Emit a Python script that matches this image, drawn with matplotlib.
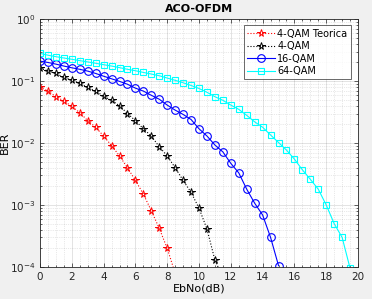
import numpy as np
import matplotlib
matplotlib.use("Agg")
import matplotlib.pyplot as plt
from matplotlib.ticker import LogLocator, MultipleLocator, NullFormatter

# EbNo axis (dB), 0.5 dB steps
ebno_teo = np.arange(0, 8.51, 0.5)
ber_teo = [0.080, 0.069, 0.056, 0.048, 0.039, 0.031, 0.023, 0.018, 0.013, 0.0091,
           0.0062, 0.0040, 0.0025, 0.0015, 0.00081, 0.00042, 0.00020, 0.000079]

ebno_4 = np.arange(0, 11.51, 0.5)
ber_4 = [0.160, 0.147, 0.133, 0.115, 0.104, 0.092, 0.079, 0.069, 0.057, 0.049,
         0.040, 0.030, 0.023, 0.017, 0.013, 0.0087, 0.0062, 0.0040, 0.0025, 0.0016,
         0.00089, 0.00041, 0.000129, 0.000068]

ebno_16 = np.arange(0, 15.01, 0.5)
ber_16 = [0.210, 0.200, 0.188, 0.175, 0.164, 0.155, 0.145, 0.133, 0.120, 0.109,
          0.099, 0.089, 0.077, 0.069, 0.059, 0.051, 0.041, 0.034, 0.029, 0.024,
          0.017, 0.013, 0.0093, 0.0072, 0.0047, 0.0033, 0.0018, 0.00107, 0.00069,
          0.00030, 0.000105]

ebno_64 = np.arange(0, 19.51, 0.5)
ber_64 = [0.280, 0.262, 0.248, 0.236, 0.225, 0.214, 0.204, 0.194, 0.184, 0.175,
          0.165, 0.155, 0.147, 0.138, 0.130, 0.122, 0.112, 0.103, 0.094, 0.085,
          0.076, 0.066, 0.056, 0.049, 0.041, 0.035, 0.028, 0.022, 0.018, 0.0135,
          0.0102, 0.0077, 0.0055, 0.0037, 0.0026, 0.0018, 0.00100, 0.00050,
          0.00030, 0.000095]

labels = ["4-QAM Teorica", "4-QAM", "16-QAM", "64-QAM"]

fig = plt.figure(figsize=(3.72, 2.99), dpi=100, facecolor="#f0f0f0")
ax = fig.add_axes([0.1075, 0.107, 0.855, 0.829])

ax.semilogy(ebno_teo, ber_teo, ls=":", color="#ff0000", marker="*", mfc="none", ms=5.5,
            lw=0.8, mew=0.7, label=labels[0])
ax.semilogy(ebno_4, ber_4, ls=":", color="#000000", marker="*", mfc="none", ms=5.5,
            lw=0.8, mew=0.7, label=labels[1])
ax.semilogy(ebno_16, ber_16, ls="-", color="#0000ff", marker="o", mfc="none", ms=5.5,
            lw=0.8, mew=0.8, label=labels[2])
ax.semilogy(ebno_64, ber_64, ls="-", color="#00ffff", marker="s", mfc="none", ms=4.5,
            lw=0.8, mew=0.8, label=labels[3])

ax.set_xlim(0, 20)
ax.set_ylim(1e-4, 1)
ax.xaxis.set_major_locator(MultipleLocator(2))
ax.xaxis.set_minor_locator(MultipleLocator(0.5))
ax.yaxis.set_major_locator(LogLocator(base=10, numticks=10))
ax.yaxis.set_minor_locator(LogLocator(base=10, subs=np.arange(2, 10), numticks=20))
ax.yaxis.set_minor_formatter(NullFormatter())

ax.grid(True, which="major", color="#262626", alpha=0.15, lw=0.6)
ax.grid(True, which="minor", color="#262626", alpha=0.2, lw=0.5, ls=":")
ax.tick_params(which="both", direction="in", top=True, right=True, labelsize=7.5,
               colors="#262626", length=3, width=0.5)
ax.tick_params(which="minor", length=1.5)
for s in ax.spines.values():
    s.set_color("#262626")
    s.set_linewidth(0.6)

ax.set_title("ACO-OFDM", fontsize=8, fontweight="bold", pad=5)
ax.set_xlabel("EbNo(dB)", fontsize=8, labelpad=1)
ax.set_ylabel("BER", fontsize=8, labelpad=0)

leg = ax.legend(loc="upper right", fontsize=7, handlelength=2.8, borderpad=0.35,
                labelspacing=0.25, handletextpad=0.3, fancybox=False,
                bbox_to_anchor=(0.993, 0.995))
leg.get_frame().set_edgecolor("#262626")
leg.get_frame().set_linewidth(0.6)

plt.savefig("out.png", dpi=100, facecolor=fig.get_facecolor())
